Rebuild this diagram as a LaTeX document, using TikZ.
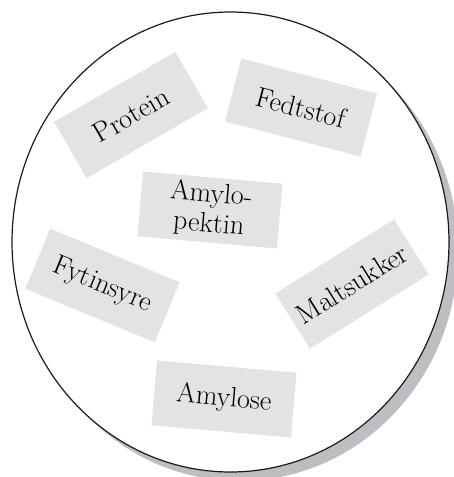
\documentclass[tikz,border=0pt]{standalone}
\usepackage{fontspec}
\usepackage{tikz}
\definecolor{CardGray}{HTML}{E2E3E5}
\definecolor{ShadowGray}{HTML}{BDBEC1}
\definecolor{RimBlack}{HTML}{1A1A1A}

\begin{document}
\begin{tikzpicture}[x=1pt, y=-1pt,
    card/.style={fill=CardGray, inner sep=0pt, minimum width=140pt,
      minimum height=65pt, align=center,
      font=\fontsize{28}{30}\selectfont}]
    \useasboundingbox (0,0) rectangle (454,477);

    % Dish with its shadow
    \fill[ShadowGray] (239.5,251) ellipse [x radius=218.5, y radius=230];
    \draw[line width=1.2pt, RimBlack, fill=white]
      (230.5,242) ellipse [x radius=218.5, y radius=230];

    % Cards inside the dish
    \node[card, rotate=30]    (protein)  at (131,115) {Protein};
    \node[card, rotate=-14.5] (fedtstof) at (301,107.5) {Fedtstof};
    \node[card, rotate=-5]    (amylopek) at (210,210) {Amylo-\\pektin};
    \node[card, rotate=-22.5] (fytin)    at (102.5,285.5) {Fytinsyre};
    \node[card, rotate=32]    (malt)     at (352,284) {Maltsukker};
    \node[card, rotate=-5]    (amylose)  at (224,399) {Amylose};
  \end{tikzpicture}
\end{document}
